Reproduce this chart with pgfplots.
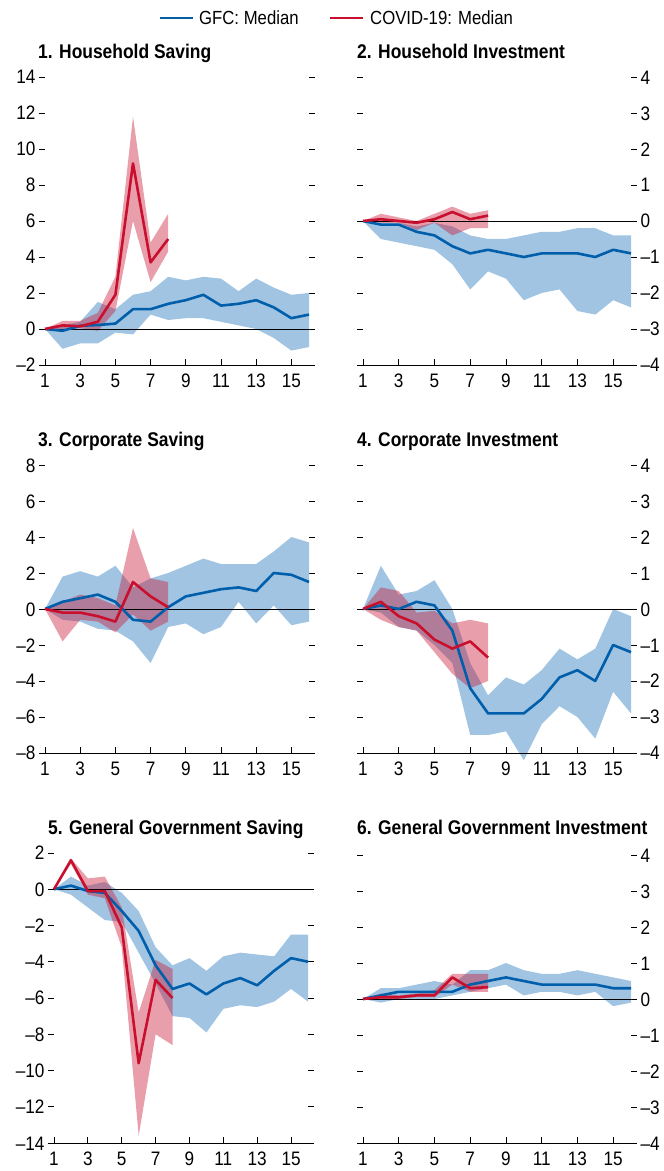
\documentclass[border=0pt]{standalone}
\usepackage{fontspec}
\setmainfont{Liberation Sans}[FakeStretch=0.88]
\usepackage{pgfplots}
\pgfplotsset{compat=1.18}
\definecolor{gfcblue}{RGB}{0,94,170}
\definecolor{bandblue}{RGB}{160,196,226}
\definecolor{covred}{RGB}{200,16,46}
\newcommand{\tickfont}{\fontsize{19.5}{19.5}\selectfont}
\newcommand{\titlefont}{\fontsize{19.8}{19.8}\selectfont\bfseries}
\newcommand{\legfont}{\fontsize{19}{19}\selectfont}
\pgfplotsset{
  base/.style={
    scale only axis, xmin=1, xmax=16, clip=false,
    axis line style={draw=none},
    xtick={1,3,...,15}, xticklabels={1,3,5,7,9,11,13,15},
    xtick pos=left, xtick align=inside,
    ytick pos=both, ytick align=outside,
    major tick length=6pt,
    tick style={black, line width=0.8pt},
    ticklabel style={font=\tickfont, black, text height=14pt, text depth=0pt},
    /pgf/number format/assume math mode=true,
    xticklabel style={yshift=-5pt},
  },
  leftax/.style={yticklabel pos=left},
  rightax/.style={yticklabel pos=right, ymin=-4, ymax=4, ytick={-4,-3,...,4},
    yticklabels={–4,–3,–2,–1,0,1,2,3,4}},
  blueband/.style={fill=bandblue, draw=none, forget plot},
  redband/.style={fill=covred, fill opacity=0.4, draw=none, forget plot},
  blueline/.style={gfcblue, line width=2.6pt, line join=round, forget plot},
  redline/.style={covred, line width=2.6pt, line join=round, forget plot},
  zeroline/.style={black, line width=0.8pt, forget plot},
}
\newcommand{\bottomline}{\draw[black, line width=0.8pt] ([xshift=-6pt]rel axis cs:0,0) -- ([xshift=6pt]rel axis cs:1,0);}
\begin{document}
\begin{tikzpicture}
\useasboundingbox (0pt,0pt) rectangle (664pt,1171pt);

% ---------- Panel 1: Household Saving
\begin{axis}[base, leftax, at={(45pt,806pt)}, anchor=south west, width=264pt, height=288pt,
  ymin=-2, ymax=14, ytick={-2,0,...,14}, yticklabels={–2,0,2,4,6,8,10,12,14}]
\addplot[blueband] coordinates {(1,0)(2,0.2)(3,0.4)(4,1.5)(5,1.1)(6,1.9)(7,2.1)(8,2.9)(9,2.7)(10,2.9)(11,2.8)(12,2.1)(13,2.8)(14,2.3)(15,1.9)(16,2.0)
  (16,-1.0)(15,-1.2)(14,-0.5)(13,0)(12,0.2)(11,0.4)(10,0.6)(9,0.6)(8,0.5)(7,0.8)(6,-0.3)(5,-0.2)(4,-0.8)(3,-0.8)(2,-1.1)} -- cycle;
\addplot[redband] coordinates {(1,0)(2,0.45)(3,0.45)(4,0.9)(5,2.9)(6,11.8)(7,4.8)(8,6.4)
  (8,4.3)(7,2.6)(6,6.0)(5,1.0)(4,-0.1)(3,0.05)(2,0.0)} -- cycle;
\addplot[zeroline] coordinates {(1,0)(16,0)};
\addplot[blueline] coordinates {(1,0)(2,-0.1)(3,0.18)(4,0.22)(5,0.3)(6,1.1)(7,1.1)(8,1.4)(9,1.6)(10,1.9)(11,1.3)(12,1.4)(13,1.6)(14,1.2)(15,0.6)(16,0.8)};
\addplot[redline] coordinates {(1,0)(2,0.2)(3,0.15)(4,0.4)(5,1.9)(6,9.2)(7,3.7)(8,5.0)};
\bottomline
\end{axis}

% ---------- Panel 2: Household Investment
\begin{axis}[base, rightax, at={(363pt,806pt)}, anchor=south west, width=268pt, height=288pt]
\addplot[blueband] coordinates {(1,0)(2,-0.05)(3,-0.05)(4,-0.15)(5,-0.05)(6,-0.15)(7,-0.4)(8,-0.5)(9,-0.5)(10,-0.4)(11,-0.3)(12,-0.3)(13,-0.2)(14,-0.2)(15,-0.4)(16,-0.4)
  (16,-2.4)(15,-2.2)(14,-2.6)(13,-2.5)(12,-1.9)(11,-2.0)(10,-2.2)(9,-1.6)(8,-1.4)(7,-1.9)(6,-1.2)(5,-0.8)(4,-0.7)(3,-0.6)(2,-0.5)} -- cycle;
\addplot[redband] coordinates {(1,0)(2,0.2)(3,0.1)(4,0.0)(5,0.2)(6,0.4)(7,0.2)(8,0.3)
  (8,-0.2)(7,-0.2)(6,-0.4)(5,-0.05)(4,-0.25)(3,-0.05)(2,-0.05)} -- cycle;
\addplot[zeroline] coordinates {(1,0)(16,0)};
\addplot[blueline] coordinates {(1,0)(2,-0.1)(3,-0.1)(4,-0.3)(5,-0.4)(6,-0.7)(7,-0.9)(8,-0.8)(9,-0.9)(10,-1.0)(11,-0.9)(12,-0.9)(13,-0.9)(14,-1.0)(15,-0.8)(16,-0.9)};
\addplot[redline] coordinates {(1,0)(2,0.05)(3,0)(4,-0.05)(5,0.05)(6,0.25)(7,0.05)(8,0.15)};
\bottomline
\end{axis}

% ---------- Panel 3: Corporate Saving
\begin{axis}[base, leftax, at={(45pt,418pt)}, anchor=south west, width=264pt, height=288pt,
  ymin=-8, ymax=8, ytick={-8,-6,...,8}, yticklabels={–8,–6,–4,–2,0,2,4,6,8}]
\addplot[blueband] coordinates {(1,0)(2,1.8)(3,2.1)(4,1.8)(5,2.4)(6,1.2)(7,1.7)(8,2.0)(9,2.4)(10,2.8)(11,2.5)(12,2.5)(13,2.5)(14,3.2)(15,4.0)(16,3.7)
  (16,-0.7)(15,-0.9)(14,0.2)(13,-0.8)(12,0.4)(11,-1.0)(10,-1.4)(9,-0.8)(8,-1.0)(7,-3.0)(6,-1.8)(5,-1.2)(4,-1.1)(3,-0.7)(2,-0.6)} -- cycle;
\addplot[redband] coordinates {(1,0)(2,0.4)(3,0.8)(4,0.6)(5,0.2)(6,4.5)(7,1.7)(8,1.5)
  (8,-0.7)(7,-1.2)(6,-0.3)(5,-1.3)(4,-0.7)(3,-0.6)(2,-1.8)} -- cycle;
\addplot[zeroline] coordinates {(1,0)(16,0)};
\addplot[blueline] coordinates {(1,0)(2,0.4)(3,0.6)(4,0.8)(5,0.4)(6,-0.6)(7,-0.7)(8,0.1)(9,0.7)(10,0.9)(11,1.1)(12,1.2)(13,1.0)(14,2.0)(15,1.9)(16,1.5)};
\addplot[redline] coordinates {(1,0)(2,-0.2)(3,-0.2)(4,-0.4)(5,-0.7)(6,1.5)(7,0.7)(8,0.1)};
\bottomline
\end{axis}

% ---------- Panel 4: Corporate Investment
\begin{axis}[base, rightax, at={(363pt,418pt)}, anchor=south west, width=268pt, height=288pt]
\addplot[blueband] coordinates {(1,0)(2,1.2)(3,0.4)(4,0.5)(5,0.8)(6,0.0)(7,-1.5)(8,-2.4)(9,-1.9)(10,-2.1)(11,-1.7)(12,-1.1)(13,-1.4)(14,-1.1)(15,0.0)(16,-0.2)
  (16,-2.9)(15,-2.3)(14,-3.6)(13,-3.0)(12,-2.7)(11,-3.2)(10,-4.2)(9,-3.4)(8,-3.5)(7,-3.5)(6,-1.5)(5,-1.0)(4,-0.6)(3,-0.5)(2,-0.1)} -- cycle;
\addplot[redband] coordinates {(1,0)(2,0.6)(3,0.5)(4,-0.1)(5,-0.05)(6,-0.4)(7,-0.3)(8,-0.4)
  (8,-2.0)(7,-2.2)(6,-1.8)(5,-1.2)(4,-0.6)(3,-0.5)(2,-0.3)} -- cycle;
\addplot[zeroline] coordinates {(1,0)(16,0)};
\addplot[blueline] coordinates {(1,0)(2,0.1)(3,0.0)(4,0.2)(5,0.1)(6,-0.6)(7,-2.2)(8,-2.9)(9,-2.9)(10,-2.9)(11,-2.5)(12,-1.9)(13,-1.7)(14,-2.0)(15,-1.0)(16,-1.2)};
\addplot[redline] coordinates {(1,0)(2,0.2)(3,-0.2)(4,-0.4)(5,-0.85)(6,-1.1)(7,-0.9)(8,-1.35)};
\bottomline
\end{axis}

% ---------- Panel 5: General Government Saving
\begin{axis}[base, leftax, at={(54pt,28pt)}, anchor=south west, width=254pt, height=290pt,
  ymin=-14, ymax=2, ytick={-14,-12,...,2}, yticklabels={–14,–12,–10,–8,–6,–4,–2,0,2}]
\addplot[blueband] coordinates {(1,0)(2,0.7)(3,0.2)(4,0.4)(5,-0.2)(6,-1.2)(7,-3.2)(8,-4.2)(9,-3.8)(10,-4.5)(11,-3.7)(12,-3.5)(13,-3.6)(14,-3.7)(15,-2.5)(16,-2.5)
  (16,-6.2)(15,-5.5)(14,-6.2)(13,-6.5)(12,-6.4)(11,-6.6)(10,-7.9)(9,-7.1)(8,-7.0)(7,-5.2)(6,-3.5)(5,-1.8)(4,-1.7)(3,-1.0)(2,-0.3)} -- cycle;
\addplot[redband] coordinates {(1,0)(2,1.7)(3,0.6)(4,0.7)(5,-1.0)(6,-6.8)(7,-3.9)(8,-4.4)
  (8,-8.6)(7,-8.0)(6,-13.6)(5,-3.2)(4,-0.5)(3,-0.3)(2,1.4)} -- cycle;
\addplot[zeroline] coordinates {(1,0)(16,0)};
\addplot[blueline] coordinates {(1,0)(2,0.2)(3,-0.1)(4,-0.2)(5,-1.2)(6,-2.3)(7,-4.2)(8,-5.5)(9,-5.2)(10,-5.8)(11,-5.2)(12,-4.9)(13,-5.3)(14,-4.5)(15,-3.8)(16,-4.0)};
\addplot[redline] coordinates {(1,0)(2,1.6)(3,-0.1)(4,-0.1)(5,-2.1)(6,-9.6)(7,-5.0)(8,-6.0)};
\bottomline
\end{axis}

% ---------- Panel 6: General Government Investment
\begin{axis}[base, rightax, at={(363pt,28pt)}, anchor=south west, width=268pt, height=288pt]
\addplot[blueband] coordinates {(1,0)(2,0.3)(3,0.3)(4,0.4)(5,0.5)(6,0.4)(7,0.8)(8,0.8)(9,1.0)(10,0.8)(11,0.7)(12,0.7)(13,0.8)(14,0.7)(15,0.6)(16,0.5)
  (16,-0.1)(15,-0.2)(14,0.2)(13,0.1)(12,0.2)(11,0.2)(10,0.1)(9,0.4)(8,0.3)(7,0.2)(6,0.1)(5,0.0)(4,0.0)(3,0.0)(2,-0.1)} -- cycle;
\addplot[redband] coordinates {(1,0)(2,0.15)(3,0.1)(4,0.15)(5,0.25)(6,0.7)(7,0.7)(8,0.7)
  (8,0.2)(7,0.2)(6,0.4)(5,0.05)(4,0.05)(3,0.0)(2,0.0)} -- cycle;
\addplot[zeroline] coordinates {(1,0)(16,0)};
\addplot[blueline] coordinates {(1,0)(2,0.1)(3,0.2)(4,0.2)(5,0.2)(6,0.2)(7,0.4)(8,0.5)(9,0.6)(10,0.5)(11,0.4)(12,0.4)(13,0.4)(14,0.4)(15,0.3)(16,0.3)};
\addplot[redline] coordinates {(1,0)(2,0.05)(3,0.05)(4,0.1)(5,0.1)(6,0.6)(7,0.3)(8,0.33)};
\bottomline
\end{axis}

% ---------- Titles
\node[anchor=base west, inner sep=0, font=\titlefont] at (38pt,1112pt) {1. Household Saving};
\node[anchor=base west, inner sep=0, font=\titlefont] at (357pt,1112pt) {2. Household Investment};
\node[anchor=base west, inner sep=0, font=\titlefont] at (38pt,724pt) {3. Corporate Saving};
\node[anchor=base west, inner sep=0, font=\titlefont] at (357pt,724pt) {4. Corporate Investment};
\node[anchor=base west, inner sep=0, font=\titlefont] at (48pt,336pt) {5. General Government Saving};
\node[anchor=base west, inner sep=0, font=\titlefont] at (357pt,336pt) {6. General Government Investment};

% ---------- Legend
\draw[gfcblue, line width=2.6pt] (160pt,1153pt) -- (193pt,1153pt);
\node[anchor=west, inner sep=0, font=\legfont] at (199pt,1153pt) {GFC: Median};
\draw[covred, line width=2.6pt] (330pt,1153pt) -- (363pt,1153pt);
\node[anchor=west, inner sep=0, font=\legfont] at (370pt,1153pt) {COVID-19: Median};
\end{tikzpicture}
\end{document}
